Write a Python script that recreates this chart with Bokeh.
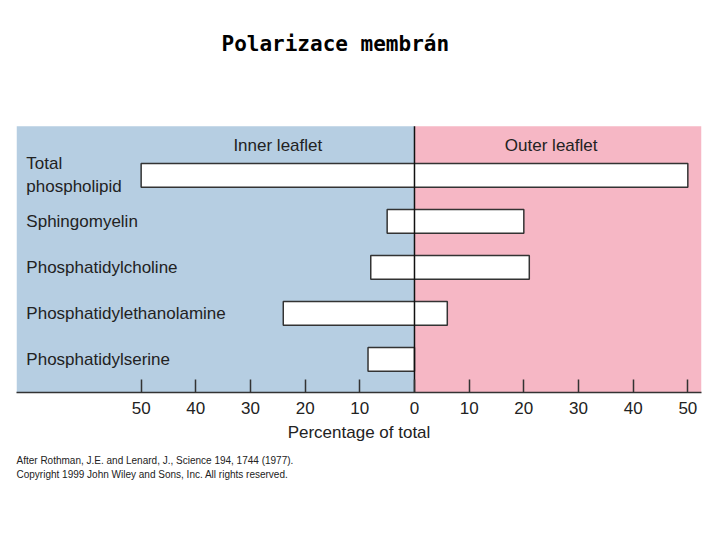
from bokeh.plotting import figure
from bokeh.models import Range1d, FixedTicker, Title, BoxAnnotation, ColumnDataSource
from bokeh.core.properties import value
from bokeh.embed import file_html
from bokeh.resources import INLINE

# ---- data ----
categories = ["Total\nphospholipid", "Sphingomyelin", "Phosphatidylcholine",
              "Phosphatidylethanolamine", "Phosphatidylserine"]
inner_leaflet = [50, 5, 8, 24, 8.5]
outer_leaflet = [50, 20, 21, 6, 0]
row_pos = [4, 3, 2, 1, 0]
tick_values = [-50, -40, -30, -20, -10, 0, 10, 20, 30, 40, 50]
tick_labels = ["50", "40", "30", "20", "10", "0", "10", "20", "30", "40", "50"]
headers = ["Inner leaflet", "Outer leaflet"]
header_x = [-25, 25]

XLO, XHI = -72.8, 52.5
YLO, PANEL_TOP = -0.72, 5.07
FRAME_H = 307
YTOP = YLO + FRAME_H / 46.0
FONT = "Liberation Sans"
BLUE = "#b6cee2"
PINK = "#f6b7c5"
INK = "#222222"

p = figure(frame_width=685, frame_height=FRAME_H, output_backend="svg", toolbar_location=None,
           x_range=Range1d(XLO, XHI), y_range=Range1d(YLO, YTOP),
           y_axis_location=None, min_border_left=16, min_border_right=10,
           min_border_top=10, min_border_bottom=10)
p.outline_line_color = None
p.grid.visible = False

# title
p.title.text = "Polarizace membrán"
p.title.text_font = "DejaVu Sans Mono"
p.title.text_font_size = "21px"
p.title.text_font_style = "bold"
p.title.text_color = "black"
p.title.align = "left"
p.title.offset = 205
p.title.standoff = 59

# backgrounds
p.add_layout(BoxAnnotation(right=0, top=PANEL_TOP, fill_color=BLUE, fill_alpha=1,
                           line_color=None, level="underlay"))
p.add_layout(BoxAnnotation(left=0, top=PANEL_TOP, fill_color=PINK, fill_alpha=1,
                           line_color=None, level="underlay"))

# bars
src = ColumnDataSource(dict(y=row_pos, left=[-v for v in inner_leaflet], right=outer_leaflet))
p.hbar(y="y", left="left", right="right", height=0.52, source=src,
       fill_color="white", line_color="#333333", line_width=1.5)

# zero line
p.segment(x0=[0], y0=[YLO], x1=[0], y1=[PANEL_TOP], line_color="#111111", line_width=1.5)

# category labels
p.text(x=[XLO + 1.8] * len(categories), y=row_pos, text=categories,
       text_font=value(FONT), text_font_size="17px", text_color=INK,
       text_align="left", text_baseline="middle", text_line_height=1.2)

# headers
p.text(x=header_x, y=[4.65, 4.65], text=headers, text_font=value(FONT),
       text_font_size="17px", text_color=INK, text_align="center", text_baseline="middle")

# axis
ax = p.xaxis[0]
ax.ticker = FixedTicker(ticks=tick_values)
ax.major_label_overrides = {v: l for v, l in zip(tick_values, tick_labels)}
ax.major_tick_in = 13
ax.major_tick_out = 0
ax.minor_tick_in = 0
ax.minor_tick_out = 0
ax.major_tick_line_color = "#333333"
ax.major_tick_line_width = 1.5
ax.axis_line_color = "#333333"
ax.axis_line_width = 1.5
ax.major_label_text_font = FONT
ax.major_label_text_font_size = "17px"
ax.major_label_text_color = INK
ax.major_label_standoff = 9
ax.axis_label = "Percentage of total"
ax.axis_label_text_font = FONT
ax.axis_label_text_font_size = "17px"
ax.axis_label_text_font_style = "normal"
ax.axis_label_text_color = INK
ax.axis_label_standoff = 6

# citation
citation = ("After Rothman, J.E. and Lenard, J., Science 194, 1744 (1977).\n"
            "Copyright 1999 John Wiley and Sons, Inc. All rights reserved.")
t1 = Title(text=citation, align="left", text_font=FONT, text_font_size="10px",
           text_font_style="normal", text_color=INK, text_line_height=1.3, standoff=18)
p.add_layout(t1, "below")

open("out.html", "w").write(file_html(p, INLINE))
